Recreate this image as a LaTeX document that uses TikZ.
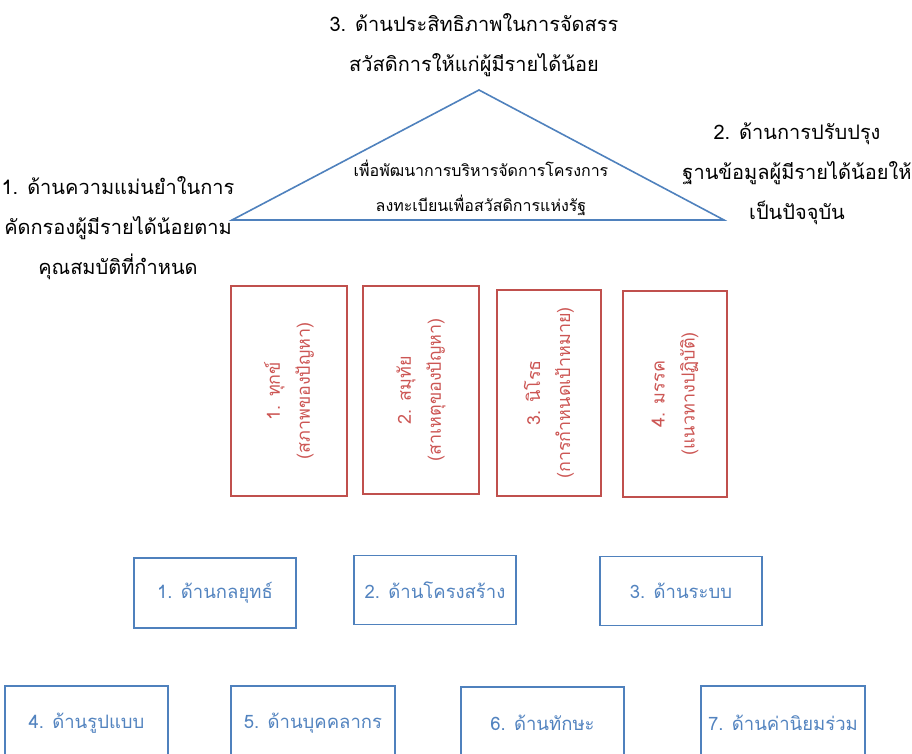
\documentclass[tikz,border=0pt]{standalone}
\usepackage{fontspec}
\newfontfamily\thaifont[Script=Thai]{Loma}
\definecolor{bline}{HTML}{4F81BD}
\definecolor{btext}{HTML}{5283BF}
\definecolor{rline}{HTML}{C0504D}
\definecolor{rtext}{HTML}{CC5654}
\begin{document}
\begin{tikzpicture}[x=1pt,y=-1pt,
  outer/.style={font=\thaifont\fontsize{20}{40}\selectfont, align=center, text=black, inner sep=0pt},
  inner/.style={font=\thaifont\fontsize{16}{35}\selectfont, align=center, text=black, inner sep=0pt},
  redbox/.style={draw=rline, line width=1.8pt},
  redtext/.style={rotate=90, text=rtext, font=\thaifont\fontsize{18}{30}\selectfont, align=center},
  bluebox/.style={draw=bline, line width=1.8pt, text=btext, font=\thaifont\fontsize{18.5}{22}\selectfont, align=center},
  bluetext/.style={text=btext, font=\thaifont\fontsize{18.5}{22}\selectfont}]
\useasboundingbox (0,0) rectangle (912,753);
% triangle
\coordinate (apex) at (479,90);
\coordinate (tl) at (232,220);
\coordinate (tr) at (724,220);
\draw[bline, line width=1.6pt] (apex) -- (tl) -- (tr) -- cycle;
\node[inner] (tri) at (481,188) {เพื่อพัฒนาการบริหารจัดการโครงการ\\ลงทะเบียนเพื่อสวัสดิการแห่งรัฐ};
% outer labels
\node[outer] (t3) at (474,45) {3. ด้านประสิทธิภาพในการจัดสรร\\สวัสดิการให้แก่ผู้มีรายได้น้อย};
\node[outer] (t1) at (118,228) {1. ด้านความแม่นยำในการ\\คัดกรองผู้มีรายได้น้อยตาม\\คุณสมบัติที่กำหนด};
\node[outer] (t2) at (797,174) {2. ด้านการปรับปรุง\\ฐานข้อมูลผู้มีรายได้น้อยให้\\เป็นปัจจุบัน};
% red boxes
\node[redbox, minimum width=116pt, minimum height=210pt] (r1) at (289,391) {};
\node[redtext] (r1t) at (r1.center) {1. ทุกข์\\(สภาพของปัญหา)};
\node[redbox, minimum width=116pt, minimum height=208pt] (r2) at (421,390) {};
\node[redtext] (r2t) at (r2.center) {2. สมุทัย\\(สาเหตุของปัญหา)};
\node[redbox, minimum width=104pt, minimum height=206pt] (r3) at (549,393) {};
\node[redtext] (r3t) at (r3.center) {3. นิโรธ\\(การกำหนดเป้าหมาย)};
\node[redbox, minimum width=104pt, minimum height=206pt] (r4) at (675,394) {};
\node[redtext] (r4t) at (r4.center) {4. มรรค\\(แนวทางปฏิบัติ)};
% blue boxes row 1
\node[bluebox, minimum width=162pt, minimum height=70pt] (b1) at (215,593) {1. ด้านกลยุทธ์};
\node[bluebox, minimum width=162pt, minimum height=69pt] (b2) at (435,590) {2. ด้านโครงสร้าง};
\node[bluebox, minimum width=162pt, minimum height=69pt] (b3) at (681,591) {3. ด้านระบบ};
% blue boxes row 2 (cut off at bottom)
\node[bluebox, minimum width=163pt, minimum height=70pt] (b4) at (86.5,721) {};
\node[bluetext] (b4t) at (86.5,723) {4. ด้านรูปแบบ};
\node[bluebox, minimum width=164pt, minimum height=70pt] (b5) at (313,721) {};
\node[bluetext] (b5t) at (313,723) {5. ด้านบุคคลากร};
\node[bluebox, minimum width=163pt, minimum height=70pt] (b6) at (542.5,722) {};
\node[bluetext] (b6t) at (542.5,723) {6. ด้านทักษะ};
\node[bluebox, minimum width=164pt, minimum height=70pt] (b7) at (783,721) {};
\node[bluetext] (b7t) at (783,723) {7. ด้านค่านิยมร่วม};
\end{tikzpicture}
\end{document}
